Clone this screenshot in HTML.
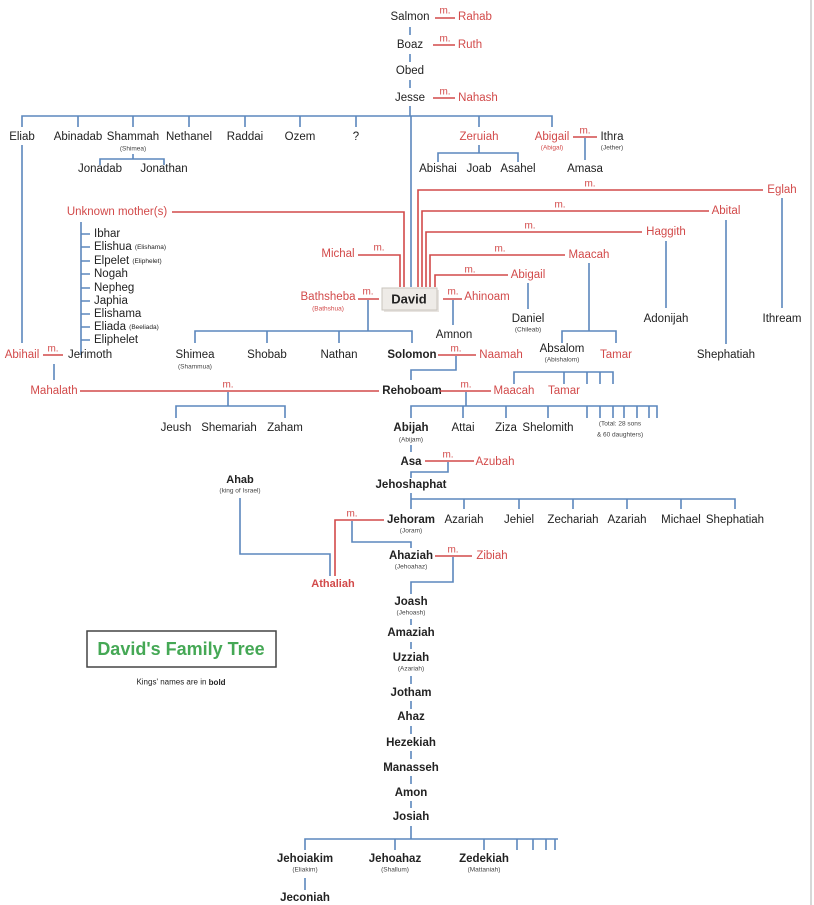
<!DOCTYPE html>
<html><head><meta charset="utf-8"><style>
html,body{margin:0;padding:0;background:#fff}
svg{display:block}
text{font-family:"Liberation Sans",sans-serif;font-size:11.5px;fill:#222;dominant-baseline:central;text-anchor:middle}
.r{fill:#d24a4a}
.b{font-weight:bold}
.s{font-size:6.5px;fill:#444}
.sr{font-size:6.5px;fill:#d24a4a}
.m{font-size:10px;fill:#d24a4a}
.l{text-anchor:start}
.t{font-size:6.5px}
.bl{stroke:#5b87bd;stroke-width:1.6;fill:none}
.rd{stroke:#d24a4a;stroke-width:1.6;fill:none}
</style></head><body>
<svg width="814" height="905" viewBox="0 0 814 905" xmlns="http://www.w3.org/2000/svg">
<rect width="814" height="905" fill="#fff"/>
<line x1="811" y1="0" x2="811" y2="905" stroke="#ccc" stroke-width="1.5"/>

<text x="410" y="17">Salmon</text><text class="m" x="445" y="11">m.</text><line class="rd" x1="435" y1="18" x2="455" y2="18"/><text class="r" x="475" y="17">Rahab</text>
<line class="bl" x1="410" y1="27" x2="410" y2="35"/>
<text x="410" y="45">Boaz</text><text class="m" x="445" y="39">m.</text><line class="rd" x1="433" y1="45" x2="455" y2="45"/><text class="r" x="470" y="45">Ruth</text>
<line class="bl" x1="410" y1="54" x2="410" y2="62"/>
<text x="410" y="71">Obed</text>
<line class="bl" x1="410" y1="80" x2="410" y2="88"/>
<text x="410" y="98">Jesse</text><text class="m" x="445" y="92">m.</text><line class="rd" x1="433" y1="98" x2="455" y2="98"/><text class="r" x="478" y="98">Nahash</text>

<path class="bl" d="M410 106V116M22 127V116H552V127M78 116V127M133 116V127M189 116V127M245 116V127M300 116V127M356 116V127M479 116V127M411 116V287"/>
<text x="22" y="137">Eliab</text><text x="78" y="137">Abinadab</text><text x="133" y="137">Shammah</text><text class="s" x="133" y="149">(Shimea)</text>
<text x="189" y="137">Nethanel</text><text x="245" y="137">Raddai</text><text x="300" y="137">Ozem</text><text x="356" y="137">?</text>
<text class="r" x="479" y="137">Zeruiah</text><text class="r" x="552" y="137">Abigail</text><text class="sr" x="552" y="148">(Abigal)</text>
<text class="m" x="585" y="131">m.</text><line class="rd" x1="573" y1="137" x2="597" y2="137"/><text x="612" y="137">Ithra</text><text class="s" x="612" y="148">(Jether)</text>
<path class="bl" d="M133 154V159M100 165V159H164V165"/>
<text x="100" y="169">Jonadab</text><text x="164" y="169">Jonathan</text>
<path class="bl" d="M479 145V153M438 162V153H518V162"/>
<text x="438" y="169">Abishai</text><text x="479" y="169">Joab</text><text x="518" y="169">Asahel</text>
<line class="bl" x1="585" y1="138" x2="585" y2="160"/><text x="585" y="169">Amasa</text>
<line class="bl" x1="22" y1="145" x2="22" y2="343"/>

<path class="rd" d="M418 287V190H763"/><text class="m" x="590" y="184">m.</text><text class="r" x="782" y="190">Eglah</text>
<path class="rd" d="M422 287V211H709"/><text class="m" x="560" y="205">m.</text><text class="r" x="726" y="211">Abital</text>
<path class="rd" d="M426 287V232H642"/><text class="m" x="530" y="226">m.</text><text class="r" x="666" y="232">Haggith</text>
<path class="rd" d="M430 287V255H565"/><text class="m" x="500" y="249">m.</text><text class="r" x="589" y="255">Maacah</text>
<path class="rd" d="M435 287V275H508"/><text class="m" x="470" y="270">m.</text><text class="r" x="528" y="275">Abigail</text>
<text class="r" x="117" y="212">Unknown mother(s)</text><path class="rd" d="M172 212H404V287"/>
<text class="r" x="338" y="254">Michal</text><path class="rd" d="M358 255H400V287"/><text class="m" x="379" y="248">m.</text>

<line class="bl" x1="782" y1="198" x2="782" y2="308"/><text x="782" y="319">Ithream</text>
<line class="bl" x1="726" y1="220" x2="726" y2="344"/><text x="726" y="355">Shephatiah</text>
<line class="bl" x1="666" y1="241" x2="666" y2="308"/><text x="666" y="319">Adonijah</text>
<path class="bl" d="M589 263V331M562 343V331H616V343"/>
<text x="562" y="349">Absalom</text><text class="s" x="562" y="360">(Abishalom)</text><text class="r" x="616" y="355">Tamar</text>
<line class="bl" x1="528" y1="283" x2="528" y2="309"/><text x="528" y="319">Daniel</text><text class="s" x="528" y="330">(Chileab)</text>

<path class="bl" d="M81 222V355M81 234H90M81 247H90M81 261H90M81 274H90M81 288H90M81 301H90M81 314H90M81 327H90M81 340H90"/>
<text class="l" x="94" y="234">Ibhar</text>
<text class="l" x="94" y="247">Elishua <tspan class="t" style="font-size:6.5px">(Elishama)</tspan></text>
<text class="l" x="94" y="261">Elpelet <tspan class="t" style="font-size:6.5px">(Eliphelet)</tspan></text>
<text class="l" x="94" y="274">Nogah</text>
<text class="l" x="94" y="288">Nepheg</text>
<text class="l" x="94" y="301">Japhia</text>
<text class="l" x="94" y="314">Elishama</text>
<text class="l" x="94" y="327">Eliada <tspan class="t" style="font-size:6.5px">(Beeliada)</tspan></text>
<text class="l" x="94" y="340">Eliphelet</text>
<text class="l" x="68" y="355">Jerimoth</text>
<text class="r" x="22" y="355">Abihail</text><text class="m" x="53" y="349">m.</text><line class="rd" x1="43" y1="355" x2="63" y2="355"/>
<line class="bl" x1="54" y1="364" x2="54" y2="380"/>

<rect x="384" y="290" width="55" height="22" fill="#d8d2cc" opacity="0.6"/>
<rect x="382" y="288" width="55" height="22" fill="#eeebe7" stroke="#c9c4be" stroke-width="1"/>
<text class="b" x="409" y="299" style="font-size:13px">David</text>
<text class="r" x="328" y="297">Bathsheba</text><text class="sr" x="328" y="309">(Bathshua)</text>
<text class="m" x="368" y="292">m.</text><line class="rd" x1="358" y1="299" x2="379" y2="299"/>
<text class="m" x="453" y="292">m.</text><line class="rd" x1="443" y1="299" x2="462" y2="299"/><text class="r" x="487" y="297">Ahinoam</text>
<line class="bl" x1="453" y1="300" x2="453" y2="325"/><text x="454" y="335">Amnon</text>
<path class="bl" d="M368 300V331M195 343V331H412V343M267 331V343M339 331V343"/>
<text x="195" y="355">Shimea</text><text class="s" x="195" y="367">(Shammua)</text>
<text x="267" y="355">Shobab</text><text x="339" y="355">Nathan</text><text class="b" x="412" y="355">Solomon</text>
<text class="m" x="456" y="349">m.</text><line class="rd" x1="438" y1="355" x2="476" y2="355"/><text class="r" x="501" y="355">Naamah</text>
<path class="bl" d="M456 356V370H411V380"/>

<text class="r" x="54" y="391">Mahalath</text><line class="rd" x1="80" y1="391" x2="379" y2="391"/><text class="m" x="228" y="385">m.</text>
<path class="bl" d="M228 392V406M176 418V406H285V418"/>
<text x="176" y="428">Jeush</text><text x="229" y="428">Shemariah</text><text x="285" y="428">Zaham</text>
<text class="b" x="412" y="391">Rehoboam</text>
<text class="m" x="466" y="385">m.</text><line class="rd" x1="440" y1="391" x2="491" y2="391"/>
<text class="r" x="514" y="391">Maacah</text><text class="r" x="564" y="391">Tamar</text>
<path class="bl" d="M514 384V372H613V384M564 372V384M587 372V384M600 372V384"/>
<path class="bl" d="M466 392V406M411 418V406H657V418M463 406V418M506 406V418M548 406V418M587 406V418M600 406V418M613 406V418M624 406V418M637 406V418M649 406V418"/>
<text class="b" x="411" y="428">Abijah</text><text class="s" x="411" y="440">(Abijam)</text>
<text x="463" y="428">Attai</text><text x="506" y="428">Ziza</text><text x="548" y="428">Shelomith</text>
<text class="s" x="620" y="424">(Total: 28 sons</text><text class="s" x="620" y="435">&amp; 60 daughters)</text>
<line class="bl" x1="411" y1="445" x2="411" y2="452"/>
<text class="b" x="411" y="462">Asa</text><text class="m" x="448" y="455">m.</text><line class="rd" x1="425" y1="461" x2="474" y2="461"/><text class="r" x="495" y="462">Azubah</text>
<path class="bl" d="M448 462V472H411V478"/>
<text class="b" x="411" y="485">Jehoshaphat</text>
<path class="bl" d="M411 493V499H735V509M411 499V509M464 499V509M519 499V509M573 499V509M627 499V509M681 499V509"/>
<text class="b" x="411" y="520">Jehoram</text><text class="s" x="411" y="531">(Joram)</text>
<text x="464" y="520">Azariah</text><text x="519" y="520">Jehiel</text><text x="573" y="520">Zechariah</text><text x="627" y="520">Azariah</text><text x="681" y="520">Michael</text><text x="735" y="520">Shephatiah</text>
<text class="b" x="240" y="480" style="font-size:11px">Ahab</text><text class="s" x="240" y="491">(king of Israel)</text>
<path class="bl" d="M240 498V554H330V576"/>
<path class="rd" d="M384 520H335V576"/><text class="m" x="352" y="514">m.</text>
<path class="bl" d="M352 521V542H411V548"/>
<text class="r b" x="333" y="584" style="font-size:11px">Athaliah</text>
<text class="b" x="411" y="556">Ahaziah</text><text class="s" x="411" y="567">(Jehoahaz)</text>
<text class="m" x="453" y="550">m.</text><line class="rd" x1="435" y1="556" x2="472" y2="556"/><text class="r" x="492" y="556">Zibiah</text>
<path class="bl" d="M453 557V582H411V594"/>

<text class="b" x="411" y="602">Joash</text><text class="s" x="411" y="613">(Jehoash)</text>
<line class="bl" x1="411" y1="619" x2="411" y2="625"/>
<text class="b" x="411" y="633">Amaziah</text>
<line class="bl" x1="411" y1="642" x2="411" y2="649"/>
<text class="b" x="411" y="658">Uzziah</text><text class="s" x="411" y="669">(Azariah)</text>
<line class="bl" x1="411" y1="676" x2="411" y2="684"/>
<text class="b" x="411" y="693">Jotham</text>
<line class="bl" x1="411" y1="701" x2="411" y2="709"/>
<text class="b" x="411" y="717">Ahaz</text>
<line class="bl" x1="411" y1="726" x2="411" y2="734"/>
<text class="b" x="411" y="743">Hezekiah</text>
<line class="bl" x1="411" y1="751" x2="411" y2="759"/>
<text class="b" x="411" y="768">Manasseh</text>
<line class="bl" x1="411" y1="776" x2="411" y2="784"/>
<text class="b" x="411" y="793">Amon</text>
<line class="bl" x1="411" y1="801" x2="411" y2="808"/>
<text class="b" x="411" y="817">Josiah</text>
<path class="bl" d="M411 826V839M305 850V839H558M395 839V850M484 839V850M517 839V850M533 839V850M546 839V850M555 839V850"/>
<text class="b" x="305" y="859">Jehoiakim</text><text class="s" x="305" y="870">(Eliakim)</text>
<text class="b" x="395" y="859">Jehoahaz</text><text class="s" x="395" y="870">(Shallum)</text>
<text class="b" x="484" y="859">Zedekiah</text><text class="s" x="484" y="870">(Mattaniah)</text>
<line class="bl" x1="305" y1="878" x2="305" y2="890"/>
<text class="b" x="305" y="898">Jeconiah</text>

<rect x="87" y="631" width="189" height="36" fill="#fff" stroke="#444" stroke-width="1.5"/>
<text x="181" y="649" style="font-size:18px;font-weight:bold;fill:#45a855">David's Family Tree</text>
<text x="181" y="682" style="font-size:8px">Kings' names are in <tspan font-weight="bold">bold</tspan></text>
</svg>
</body></html>
